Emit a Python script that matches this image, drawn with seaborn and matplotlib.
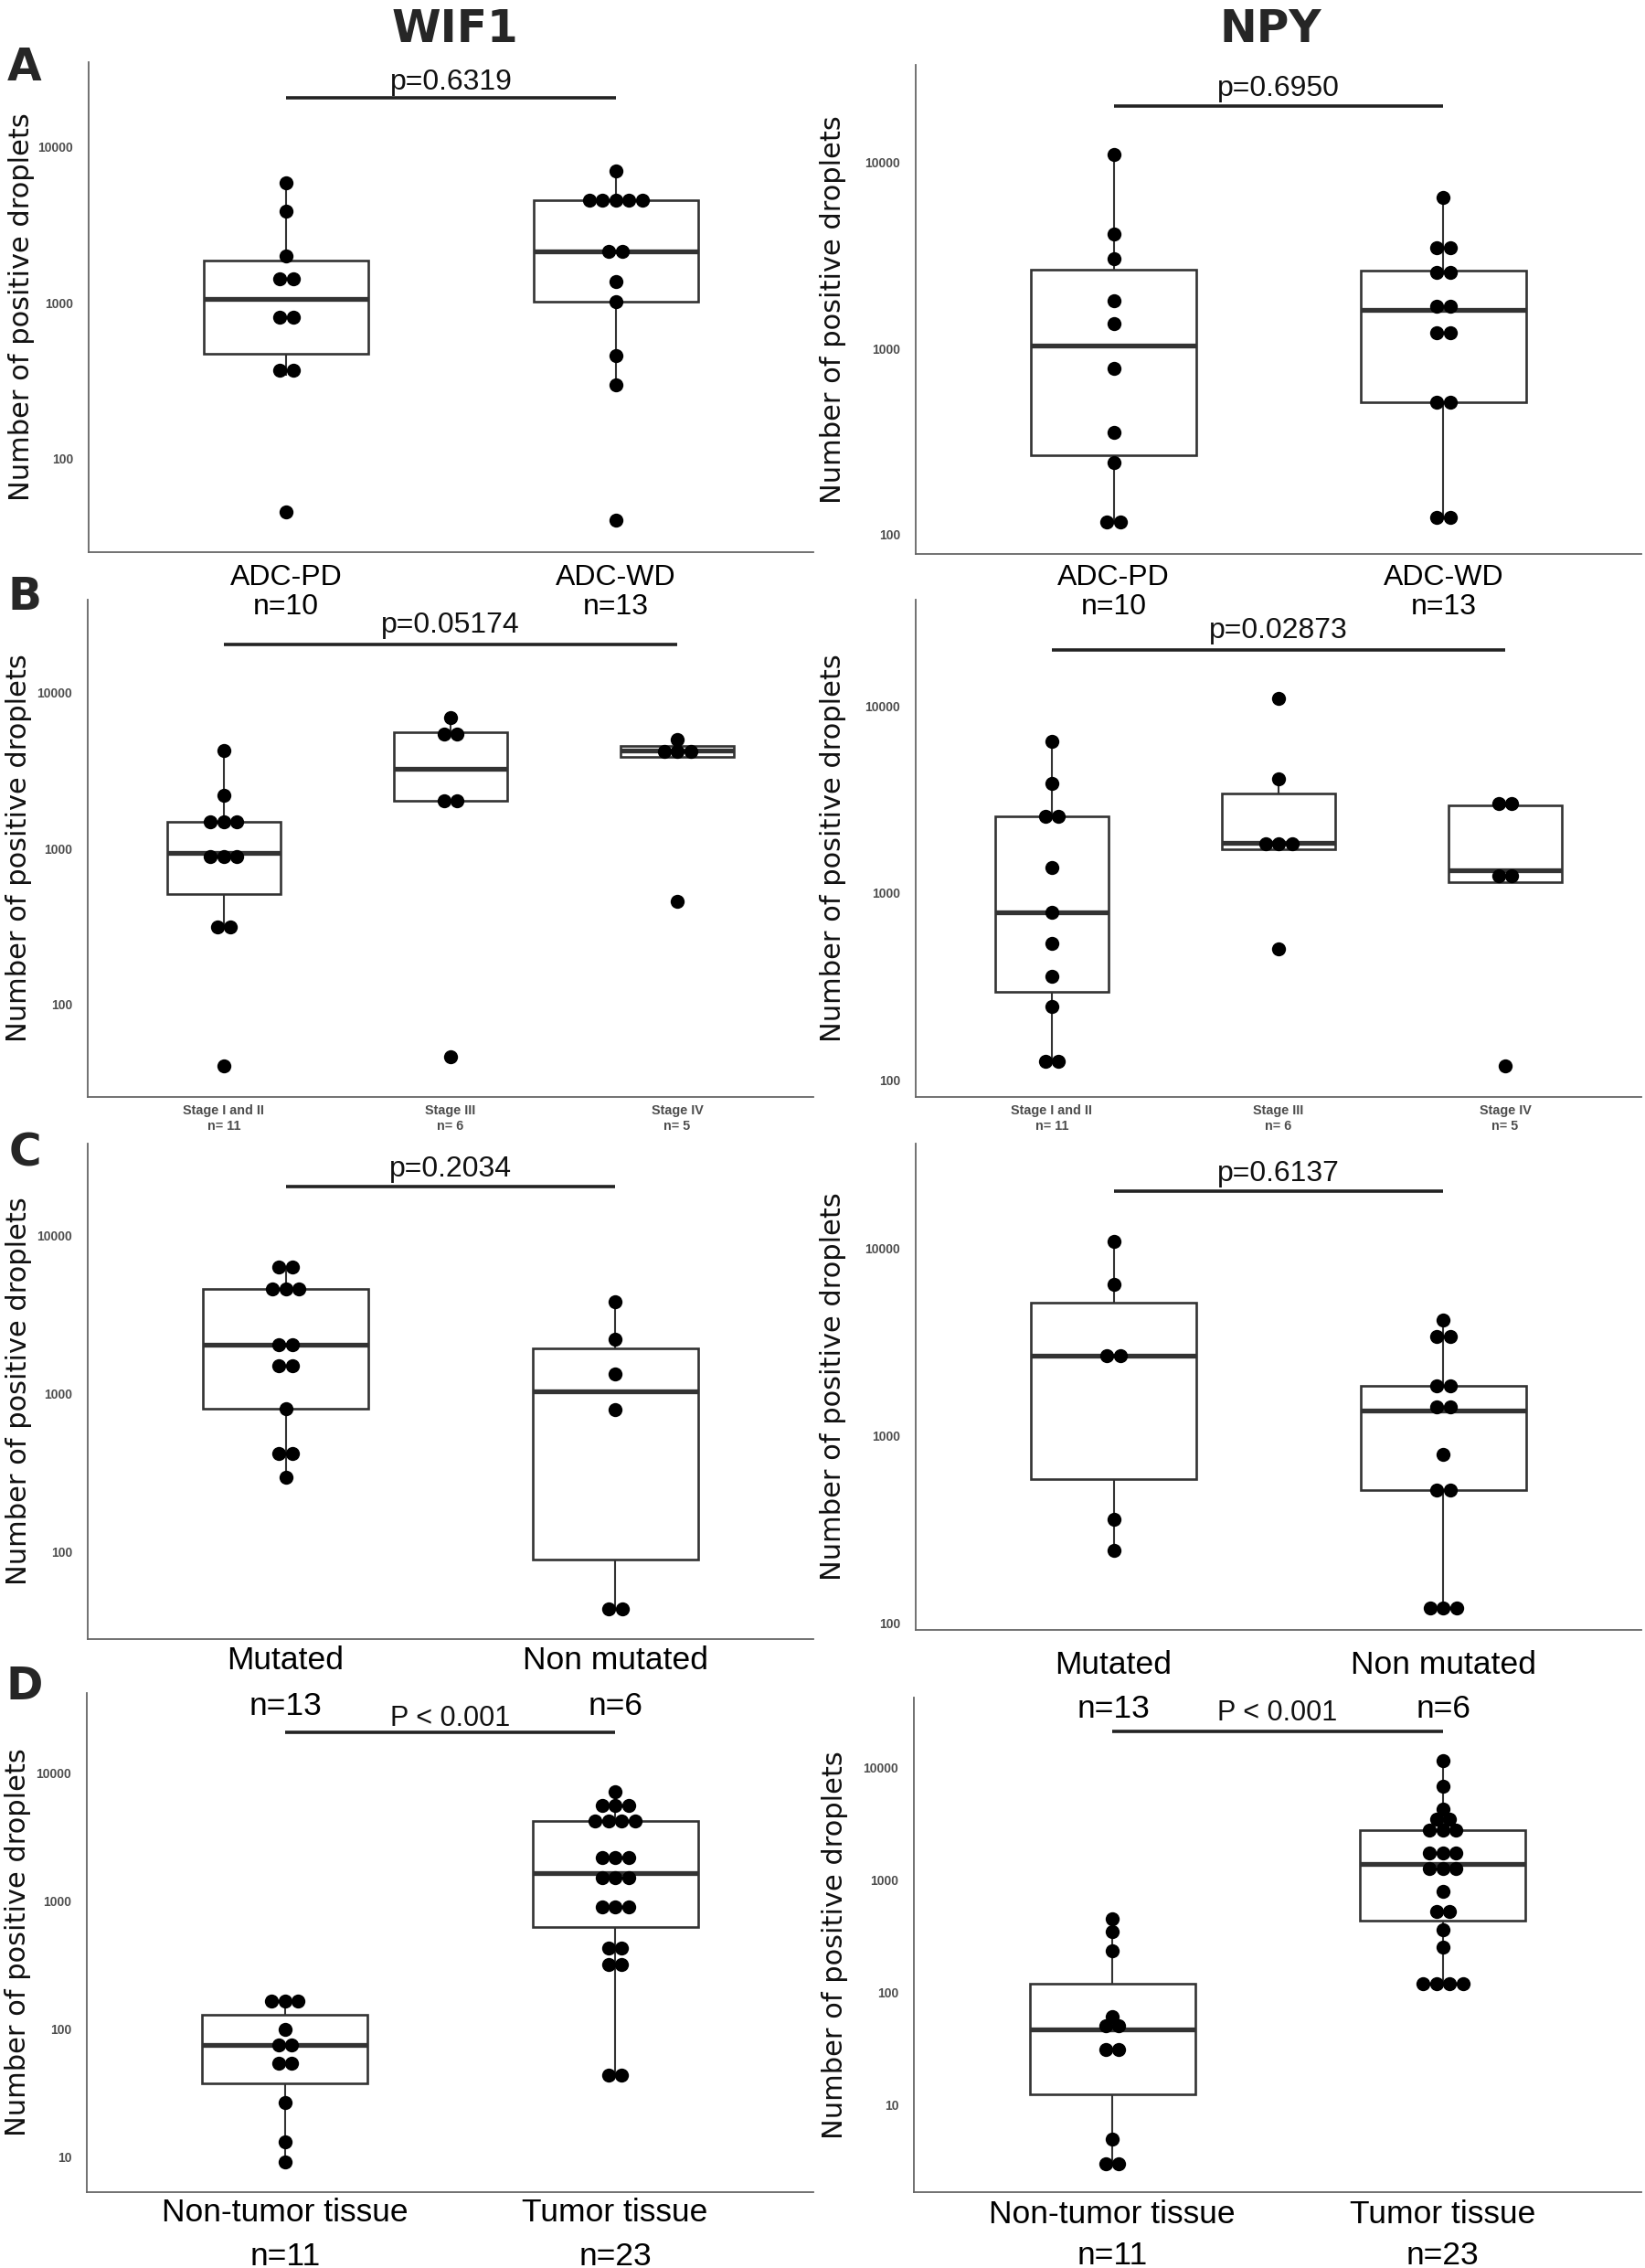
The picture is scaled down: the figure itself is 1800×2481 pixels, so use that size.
import numpy as np
import pandas as pd
import matplotlib
matplotlib.use("Agg")
import matplotlib.pyplot as plt
import seaborn as sns
from matplotlib.transforms import blended_transform_factory
from matplotlib.ticker import NullLocator

# ---------------- data ----------------
# A: histological grade
grade_groups = ["ADC-PD", "ADC-WD"]
grade_n = ["n=10", "n=13"]
wif1_grade_pd = [5875, 3846, 1982, 1549, 1318, 851, 759, 398, 339, 45.6]
wif1_grade_wd = [6960, 4560, 4560, 4560, 4560, 4560, 2140, 2140, 1360, 1020, 458, 295, 40]
npy_grade_pd = [10950, 4090, 3020, 1806, 1362, 781, 353, 244, 117.5, 117.5]
npy_grade_wd = [6440, 3480, 3480, 2630, 2490, 1760, 1600, 1219, 1219, 516, 516, 124, 124]
p_grade = ["p=0.6319", "p=0.6950"]

# B: stage
stage_groups = ["Stage I and II", "Stage III", "Stage IV"]
stage_n = ["n= 11", "n= 6", "n= 5"]
wif1_stage_12 = [4236, 2208, 1479, 1479, 1479, 940, 863, 840, 313, 313, 40.3]
wif1_stage_3 = [6950, 5700, 5200, 2036, 2036, 46.1]
wif1_stage_4 = [5023, 4539, 4236, 3846, 457]
npy_stage_12 = [6460, 3870, 2565, 2565, 1368, 787, 537, 357, 246, 125, 125]
npy_stage_3 = [11040, 4102, 1972, 1758, 1698, 502]
npy_stage_4 = [3090, 2951, 1318, 1148, 119]
p_stage = ["p=0.05174", "p=0.02873"]

# C: mutation status
mut_groups = ["Mutated", "Non mutated"]
mut_n = ["n=13", "n=6"]
wif1_mut = [6370, 6370, 4590, 4590, 4590, 2033, 2033, 1499, 1499, 801, 420, 420, 295]
wif1_nonmut = [3820, 2198, 1337, 798, 43.4, 43.4]
npy_mut = [10930, 6410, 2660, 2660, 355, 244]
npy_nonmut = [4150, 3390, 3390, 1845, 1845, 1479, 1365, 790, 513, 513, 120, 120, 120]
p_mut = ["p=0.2034", "p=0.6137"]

# D: tissue
tissue_groups = ["Non-tumor tissue", "Tumor tissue"]
tissue_n = ["n=11", "n=23"]
wif1_normal = [166, 166, 166, 99.7, 75, 75, 53.5, 53.5, 26.5, 13.2, 9.1]
wif1_tumor = [7060, 5580, 5580, 5580, 4200, 4200, 4200, 4200, 2175, 2175, 2175,
              1637, 1445, 1380, 895, 895, 895, 428, 428, 317, 317, 43.5, 43.5]
npy_normal = [454, 349, 235, 61, 55, 46.7, 30.7, 30.7, 4.9, 2.98, 2.98]
npy_tumor = [11580, 6810, 4300, 3467, 3467, 2760, 2760, 2760, 1746, 1746, 1746,
             1380, 1230, 1175, 798, 521, 521, 357, 250, 120, 120, 120, 120]
p_tissue = ["P < 0.001", "P < 0.001"]

yticks_abc = [100, 1000, 10000]
yticks_d = [10, 100, 1000, 10000]
ylabel = "Number of positive droplets"
col_titles = ["WIF1", "NPY"]
panel_letters = ["A", "B", "C", "D"]

# ---------------- style ----------------
sns.set_theme(style="white")
plt.rcParams["font.family"] = ["DejaVu Sans"]
LAB_FONT = ["Liberation Sans", "DejaVu Sans"]
TICK_FONT = ["Liberation Sans Narrow", "Liberation Sans", "DejaVu Sans"]
BOXC = "#333333"
AXC = "#666666"
W, H = 1800, 2481
DOT_S = 122
DOT_STEP_PX = 14.5
BINW = 0.08

fig = plt.figure(figsize=(W / 100, H / 100), dpi=100)
fig.patch.set_facecolor("white")


def fy(px):
    return 1 - px / H


def dot_positions(vals, center, binw, step):
    lv = np.sort(np.log10(np.asarray(vals, float)))
    xs, ys = [], []
    i = 0
    while i < len(lv):
        j = i
        while j + 1 < len(lv) and lv[j + 1] - lv[i] < binw:
            j += 1
        k = j - i + 1
        c = (lv[i] + lv[j]) / 2
        offs = (np.arange(k) - (k - 1) / 2) * step
        xs.extend(center + offs)
        ys.extend([10 ** c] * k)
        i = j + 1
    return xs, ys


panels = [
    dict(groups=grade_groups, nlab=grade_n, values=[wif1_grade_pd, wif1_grade_wd], p=p_grade[0],
         rect=(97, 68, 890, 604), ylim=(1.398, 4.544), yticks=yticks_abc,
         lab1=629, lab2=660, labsize=23, small=False, bar=107, ptxt=87, psize=23, ylx=23),
    dict(groups=grade_groups, nlab=grade_n, values=[npy_grade_pd, npy_grade_wd], p=p_grade[1],
         rect=(1002, 71, 1796, 606), ylim=(1.896, 4.522), yticks=yticks_abc,
         lab1=628, lab2=661, labsize=23, small=False, bar=116, ptxt=94, psize=23, ylx=912),
    dict(groups=stage_groups, nlab=stage_n, values=[wif1_stage_12, wif1_stage_3, wif1_stage_4], p=p_stage[0],
         rect=(96, 656, 890, 1200), ylim=(1.407, 4.596), yticks=yticks_abc,
         lab1=1214, lab2=1231, labsize=10.4, small=True, bar=705, ptxt=681, psize=23, ylx=21),
    dict(groups=stage_groups, nlab=stage_n, values=[npy_stage_12, npy_stage_3, npy_stage_4], p=p_stage[1],
         rect=(1002, 656, 1796, 1200), ylim=(1.907, 4.571), yticks=yticks_abc,
         lab1=1214, lab2=1231, labsize=10.4, small=True, bar=711, ptxt=687, psize=23, ylx=912),
    dict(groups=mut_groups, nlab=mut_n, values=[wif1_mut, wif1_nonmut], p=p_mut[0],
         rect=(96, 1251, 890, 1793), ylim=(1.448, 4.582), yticks=yticks_abc,
         lab1=1813, lab2=1863, labsize=25.5, small=False, bar=1298, ptxt=1276, psize=23, ylx=21),
    dict(groups=mut_groups, nlab=mut_n, values=[npy_mut, npy_nonmut], p=p_mut[1],
         rect=(1002, 1251, 1796, 1783), ylim=(1.961, 4.56), yticks=yticks_abc,
         lab1=1818, lab2=1866, labsize=25.5, small=False, bar=1303, ptxt=1281, psize=23, ylx=912),
    dict(groups=tissue_groups, nlab=tissue_n, values=[wif1_normal, wif1_tumor], p=p_tissue[0],
         rect=(95, 1852, 890, 2398), ylim=(0.725, 4.622), yticks=yticks_d,
         lab1=2417, lab2=2465, labsize=25.5, small=False, bar=1895, ptxt=1878, psize=22, ylx=20),
    dict(groups=tissue_groups, nlab=tissue_n, values=[npy_normal, npy_tumor], p=p_tissue[1],
         rect=(1000, 1857, 1796, 2398), ylim=(0.218, 4.626), yticks=yticks_d,
         lab1=2419, lab2=2464, labsize=25.5, small=False, bar=1894, ptxt=1872, psize=22, ylx=913),
]

for cfg in panels:
    l, t, r, b = cfg["rect"]
    ax = fig.add_axes([l / W, 1 - b / H, (r - l) / W, (b - t) / H])
    ax.set_facecolor("none")
    groups = cfg["groups"]
    vals = cfg["values"]
    n = len(groups)
    df = pd.DataFrame({
        "group": np.repeat(groups, [len(v) for v in vals]),
        "value": np.concatenate([np.asarray(v, float) for v in vals]),
    })
    sns.boxplot(data=df, x="group", y="value", order=groups, log_scale=True,
                width=0.5, showfliers=False, showcaps=False, color="white",
                linecolor=BOXC, linewidth=1.9, saturation=1,
                medianprops=dict(linewidth=3.8, color=BOXC),
                whiskerprops=dict(linewidth=1.5, color=BOXC), ax=ax)
    ax.set_xlim(-0.6, n - 0.4)
    ppu = (r - l) / (n + 0.2)
    step = DOT_STEP_PX / ppu
    xs, ys = [], []
    for i, v in enumerate(vals):
        x_, y_ = dot_positions(v, i, BINW, step)
        xs.extend(x_)
        ys.extend(y_)
    sns.scatterplot(x=xs, y=ys, ax=ax, color="black", s=DOT_S, linewidth=0,
                    zorder=5, legend=False)
    lo, hi = cfg["ylim"]
    ax.set_ylim(10 ** lo, 10 ** hi)
    yt = cfg["yticks"]
    ax.set_yticks(yt)
    ax.set_yticklabels([str(v) for v in yt], fontfamily=TICK_FONT, fontweight="bold",
                       fontsize=10, color="#4d4d4d")
    ax.yaxis.set_minor_locator(NullLocator())
    ax.tick_params(axis="y", length=0, pad=12)
    ax.set_xticks(range(n))
    ax.set_xticklabels([])
    ax.tick_params(axis="x", length=0)
    ax.set_xlabel("")
    ax.set_ylabel(ylabel, fontsize=22, family="DejaVu Sans", color="#111111", va="center")
    ax.yaxis.set_label_coords((cfg["ylx"] - l) / (r - l), 0.5)
    sns.despine(ax=ax)
    for s in ["left", "bottom"]:
        ax.spines[s].set_color(AXC)
        ax.spines[s].set_linewidth(1.3)

    tr = blended_transform_factory(ax.transData, fig.transFigure)
    em = cfg["labsize"] * 100 / 72
    for i, (g, nl) in enumerate(zip(groups, cfg["nlab"])):
        if cfg["small"]:
            kw = dict(fontsize=cfg["labsize"], fontweight="bold", color="#4d4d4d", family=LAB_FONT)
        else:
            kw = dict(fontsize=cfg["labsize"], color="black", family=LAB_FONT)
        ax.text(i, fy(cfg["lab1"] + 0.36 * em), g, transform=tr, ha="center", va="baseline",
                zorder=10, **kw)
        ax.text(i, fy(cfg["lab2"] + 0.36 * em), nl, transform=tr, ha="center", va="baseline",
                zorder=10, **kw)
    # significance bar
    ax.plot([0, n - 1], [fy(cfg["bar"])] * 2, transform=tr, color="#222222", lw=2.6,
            clip_on=False, solid_capstyle="butt")
    pem = cfg["psize"] * 100 / 72
    ax.text((n - 1) / 2, fy(cfg["ptxt"] + 0.33 * pem), cfg["p"], transform=tr, ha="center",
            va="baseline", fontsize=cfg["psize"], family=LAB_FONT, color="#111111")

# column titles and panel letters
fig.text(498 / W, fy(32), col_titles[0], ha="center", va="center", fontsize=35, fontweight="bold")
fig.text(1390 / W, fy(32), col_titles[1], ha="center", va="center", fontsize=35, fontweight="bold")
for letter, ypx in zip(panel_letters, [74, 653, 1261, 1845]):
    fig.text(27 / W, fy(ypx), letter, ha="center", va="center", fontsize=35, fontweight="bold")

fig.savefig("out.png", dpi=100, facecolor="white")
